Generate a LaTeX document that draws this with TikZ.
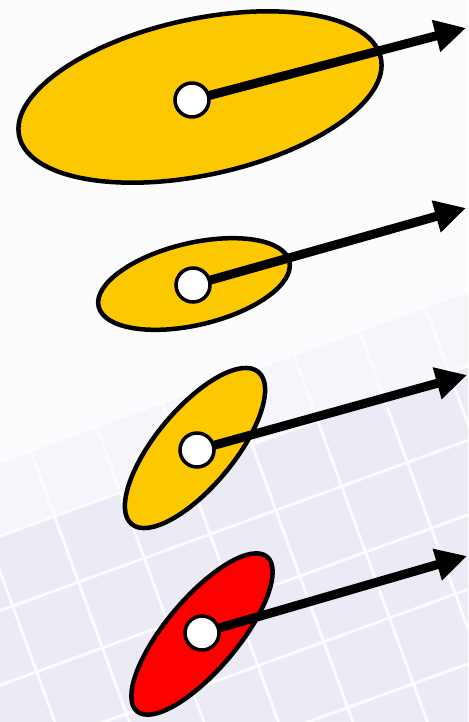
\documentclass[tikz,border=0pt]{standalone}
\usetikzlibrary{shapes.geometric,arrows.meta}
\definecolor{goldfill}{RGB}{252,200,0}
\definecolor{redfill}{RGB}{255,0,0}
\definecolor{paper}{RGB}{252,252,254}
\definecolor{tileA}{RGB}{235,235,246}
\definecolor{tileB}{RGB}{245,245,251}
\pgfdeclarelayer{bg}
\pgfsetlayers{bg,main}
\tikzset{
  blob/.style={ellipse, draw=black, line width=4.5pt, inner sep=0pt, outer sep=0pt},
  hole/.style={circle, draw=black, fill=white, line width=3.5pt, minimum size=34pt, inner sep=0pt},
  vec/.style={line width=9pt, -{Triangle[length=31pt,width=31pt]}},
}
\begin{document}
\begin{tikzpicture}[x=1pt,y=-1pt]
\useasboundingbox (0,0) rectangle (468,722);
% white dots
\node[hole] (c1) at (192,100) {};
\node[hole] (c2) at (193,285) {};
\node[hole] (c3) at (197,450) {};
\node[hole] (c4) at (202,633) {};
\coordinate (t1) at (466,28);
\coordinate (t2) at (466,208);
\coordinate (t3) at (467,375);
\coordinate (t4) at (467,556);
\begin{pgfonlayer}{bg}
\fill[paper] (0,0) rectangle (468,722);
\begin{scope}
\clip (0,0) rectangle (468,722);
\foreach \i in {-8,...,8}{
 \foreach \j in {-10,...,5}{
  \pgfmathsetmacro\cx{234+(\i*70+35)*cos(20)+(\j*70+35)*sin(20)}
  \pgfmathsetmacro\cy{600-(\i*70+35)*sin(20)+(\j*70+35)*cos(20)}
  \pgfmathsetmacro\dd{\cy-(560-0.45*\cx)}
  \ifdim\dd pt>0pt
    \fill[tileA, rotate around={20:(\cx,\cy)}] (\cx-33.5,\cy-33.5) rectangle (\cx+33.5,\cy+33.5);
  \else\ifdim\dd pt>-75pt
    \fill[tileB, rotate around={20:(\cx,\cy)}] (\cx-33.5,\cy-33.5) rectangle (\cx+33.5,\cy+33.5);
  \fi\fi
 }}
\end{scope}
% ellipses
\node[blob, fill=goldfill, minimum width=370pt, minimum height=156pt, rotate=12.2] (e1) at (200,97) {};
\node[blob, fill=goldfill, minimum width=196pt, minimum height=82pt, rotate=13.3] (e2) at (194,284) {};
\node[blob, fill=goldfill, minimum width=198pt, minimum height=78pt, rotate=50.2] (e3) at (195,448) {};
\node[blob, fill=redfill, minimum width=202pt, minimum height=72pt, rotate=49.9] (e4) at (202,634) {};
% arrows
\draw[vec] (c1.center) -- (t1);
\draw[vec] (c2.center) -- (t2);
\draw[vec] (c3.center) -- (t3);
\draw[vec] (c4.center) -- (t4);
\end{pgfonlayer}
\end{tikzpicture}
\end{document}
